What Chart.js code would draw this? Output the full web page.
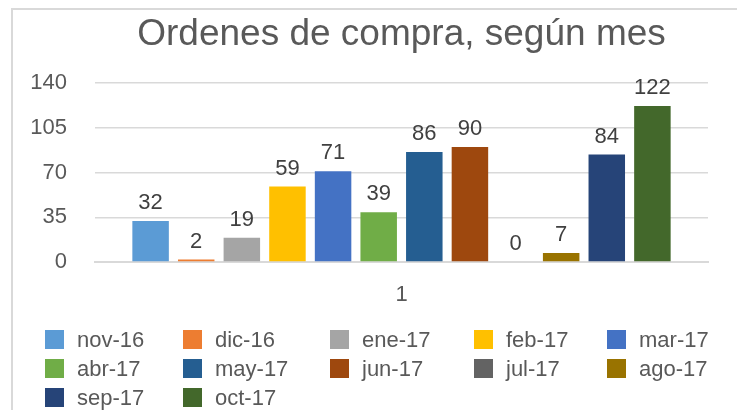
<!DOCTYPE html>
<html>
<head>
<meta charset="utf-8">
<script src="https://cdn.jsdelivr.net/npm/chart.js@4/dist/chart.umd.min.js"></script>
<style>
  body { margin: 0; background: #fff; overflow: hidden; }
  #marco { position: absolute; left: 11px; top: 8px; width: 740px; height: 420px;
           border-left: 2px solid #d9d9d9; border-top: 2px solid #d9d9d9; }
  #myChart { position: absolute; left: 0; top: 0; }
  #leyenda { position: absolute; left: 45px; top: 325px;
             display: grid; grid-template-columns: 138px 147px 144px 133px 120px;
             grid-auto-rows: 29px; font: 22px "Liberation Sans", Arial, sans-serif; color: #595959; }
  .item { display: flex; align-items: center; white-space: nowrap; }
  .caja { width: 19px; height: 19px; margin-right: 13px; flex: none; }
</style>
</head>
<body>
<div id="marco"></div>
<canvas id="myChart" width="737" height="410"></canvas>
<div id="leyenda"></div>
<script>
const categorias = ['1'];
const meses = ['nov-16', 'dic-16', 'ene-17', 'feb-17', 'mar-17', 'abr-17',
               'may-17', 'jun-17', 'jul-17', 'ago-17', 'sep-17', 'oct-17'];
const valores = [32, 2, 19, 59, 71, 39, 86, 90, 0, 7, 84, 122];
const colores = ['#5B9BD5', '#ED7D31', '#A5A5A5', '#FFC000', '#4472C4', '#70AD47',
                 '#255E91', '#9E480E', '#636363', '#997300', '#264478', '#43682B'];
const ticksY = [0, 35, 70, 105, 140];

const FUENTE = '"Liberation Sans", Arial, sans-serif';
const CHART = document.getElementById('myChart');

// etiquetas de valor encima de cada barra
const etiquetas = {
    id: 'etiquetas',
    afterDatasetsDraw(chart) {
        const ctx = chart.ctx;
        ctx.save();
        ctx.font = '22px ' + FUENTE;
        ctx.fillStyle = '#404040';
        ctx.textAlign = 'center';
        ctx.textBaseline = 'middle';
        chart.data.datasets.forEach(function (ds, i) {
            chart.getDatasetMeta(i).data.forEach(function (bar, j) {
                ctx.fillText(ds.data[j], bar.x, bar.y - 18);
            });
        });
        ctx.restore();
    }
};

const myChart = new Chart(CHART, {
    type: 'bar',
    data: {
        labels: categorias,
        datasets: meses.map(function (m, i) {
            return {
                label: m,
                data: [valores[i]],
                backgroundColor: colores[i],
                categoryPercentage: 0.893,
                barPercentage: 0.8
            };
        })
    },
    options: {
        responsive: false,
        animation: false,
        devicePixelRatio: 1,
        layout: { padding: { left: 0, right: 29, top: 0, bottom: 0 } },
        plugins: {
            legend: { display: false },
            tooltip: { enabled: false },
            title: {
                display: true,
                fullSize: false,
                text: 'Ordenes de compra, según mes',
                color: '#595959',
                font: { family: FUENTE, size: 37, weight: 'normal' },
                padding: { top: 13, bottom: 25.6 }
            }
        },
        scales: {
            x: {
                afterFit: function (s) { s.height = 148; },
                grid: { display: false },
                border: { color: '#d9d9d9', width: 2 },
                ticks: { color: '#595959', padding: 12, font: { family: FUENTE, size: 22 } }
            },
            y: {
                min: 0,
                max: 140,
                afterFit: function (s) { s.width = 95; },
                afterBuildTicks: function (s) { s.ticks = ticksY.map(function (v) { return { value: v }; }); },
                grid: { color: '#d9d9d9', lineWidth: 1.5, drawTicks: false },
                border: { display: false },
                ticks: { color: '#595959', padding: 28, font: { family: FUENTE, size: 22 } }
            }
        }
    },
    plugins: [etiquetas]
});

// leyenda en columnas, como la del original
const leyenda = document.getElementById('leyenda');
myChart.data.datasets.forEach(function (ds) {
    const item = document.createElement('div');
    item.className = 'item';
    const caja = document.createElement('span');
    caja.className = 'caja';
    caja.style.background = ds.backgroundColor;
    item.appendChild(caja);
    item.appendChild(document.createTextNode(ds.label));
    leyenda.appendChild(item);
});
</script>
</body>
</html>
